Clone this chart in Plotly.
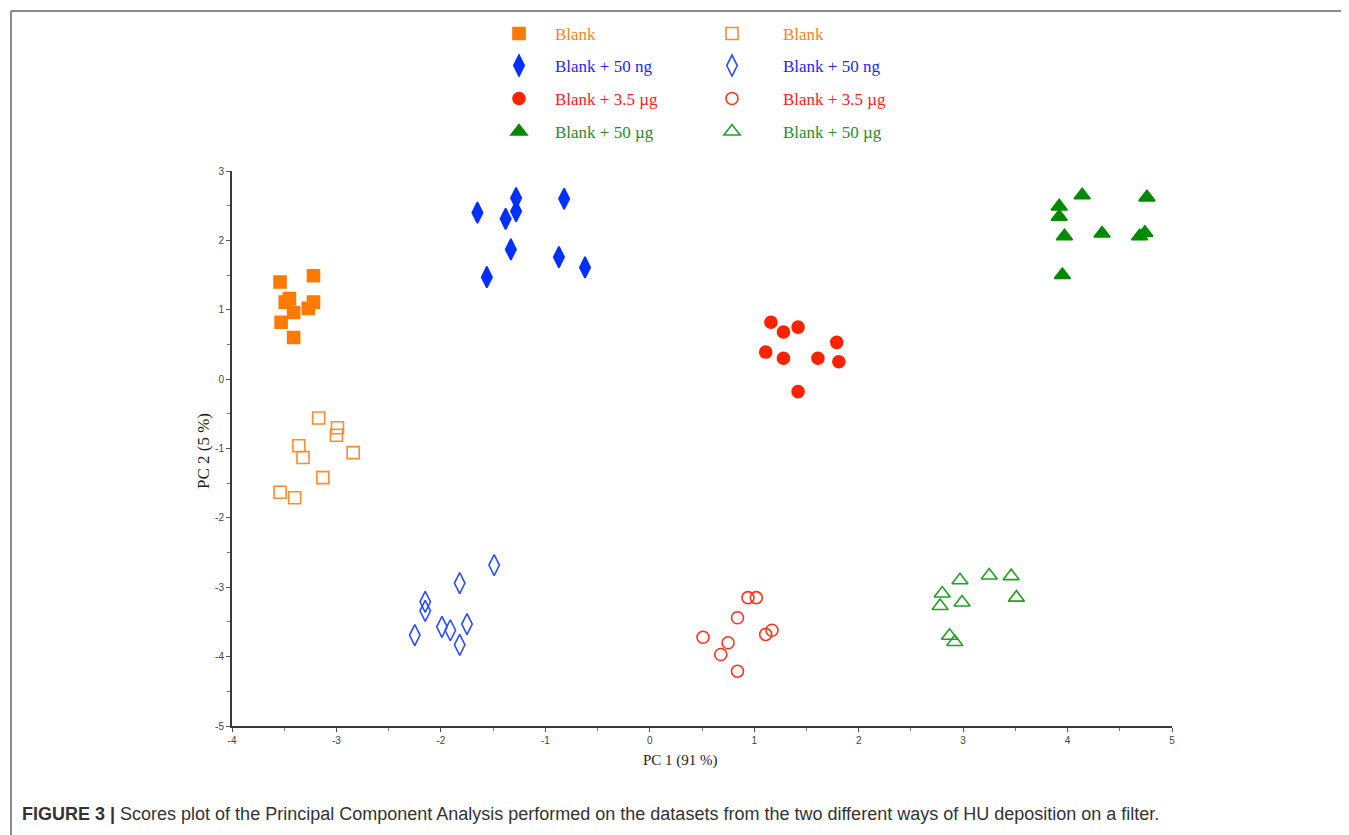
import plotly.graph_objects as go

# ---- data (PC1, PC2 scores) ----
blank_filled_x = [-3.54, -3.22, -3.49, -3.45, -3.41, -3.22, -3.27, -3.53, -3.41]
blank_filled_y = [1.40, 1.49, 1.11, 1.16, 0.96, 1.11, 1.02, 0.82, 0.60]
ng50_filled_x = [-1.65, -1.28, -1.28, -1.38, -0.82, -1.33, -0.87, -0.62, -1.56]
ng50_filled_y = [2.40, 2.61, 2.42, 2.31, 2.60, 1.87, 1.76, 1.61, 1.47]
ug35_filled_x = [1.16, 1.28, 1.42, 1.79, 1.11, 1.28, 1.61, 1.81, 1.42]
ug35_filled_y = [0.82, 0.68, 0.75, 0.53, 0.39, 0.30, 0.30, 0.25, -0.18]
ug50_filled_x = [4.14, 4.76, 3.92, 3.92, 3.97, 4.33, 4.69, 4.74, 3.95]
ug50_filled_y = [2.65, 2.62, 2.49, 2.34, 2.06, 2.10, 2.06, 2.11, 1.50]

blank_open_x = [-3.17, -2.99, -3.00, -3.36, -3.32, -2.84, -3.13, -3.54, -3.40]
blank_open_y = [-0.56, -0.70, -0.81, -0.96, -1.13, -1.06, -1.42, -1.63, -1.71]
ng50_open_x = [-1.49, -1.82, -2.15, -2.15, -2.25, -1.99, -1.91, -1.75, -1.82]
ng50_open_y = [-2.68, -2.94, -3.21, -3.34, -3.69, -3.57, -3.62, -3.53, -3.83]
ug35_open_x = [0.94, 1.02, 0.84, 1.17, 1.11, 0.51, 0.75, 0.68, 0.84]
ug35_open_y = [-3.15, -3.15, -3.44, -3.62, -3.68, -3.72, -3.80, -3.97, -4.21]
ug50_open_x = [2.97, 3.25, 3.46, 2.80, 3.51, 2.99, 2.78, 2.87, 2.92]
ug50_open_y = [-2.90, -2.83, -2.84, -3.09, -3.15, -3.22, -3.27, -3.70, -3.79]

labels = ["Blank", "Blank + 50 ng", "Blank + 3.5 µg", "Blank + 50 µg"]
x_ticks = [-4, -3, -2, -1, 0, 1, 2, 3, 4, 5]
y_ticks = [-5, -4, -3, -2, -1, 0, 1, 2, 3]

# ---- pixel helpers (reference screen pixels; page body has an 8px margin) ----
OFF = 8
L, R, T, B = 232, 1172, 171, 726
W, H = 1349 - OFF, 835 - OFF
def px(x):
    return (x - L) / (R - L)
def py(y):
    return (B - y) / (B - T)

filled_colors = ["#ff7a00", "#0030ff", "#ff2200", "#008a00"]
open_colors = ["#ff8a30", "#2a4dff", "#ff3320", "#22a022"]
text_colors = ["#ff7f24", "#1f1fff", "#ff2020", "#2a8a2a"]
filled_sym = ["square", "diamond-tall", "circle", "triangle-up"]
open_sym = ["square-open", "diamond-tall-open", "circle-open", "triangle-up-open"]
sizes = [12, 15, 12, 14]

filled = [(blank_filled_x, blank_filled_y), (ng50_filled_x, ng50_filled_y),
          (ug35_filled_x, ug35_filled_y), (ug50_filled_x, ug50_filled_y)]
opened = [(blank_open_x, blank_open_y), (ng50_open_x, ng50_open_y),
          (ug35_open_x, ug35_open_y), (ug50_open_x, ug50_open_y)]

row_y = [34, 66, 99, 132]

fig = go.Figure()
layout_legends = {}
n = 0
for col, (data, syms, cols) in enumerate([(filled, filled_sym, filled_colors),
                                          (opened, open_sym, open_colors)]):
    for i in range(4):
        n += 1
        key = "legend" if n == 1 else f"legend{n}"
        fig.add_trace(go.Scatter(
            x=data[i][0], y=data[i][1], mode="markers", name=labels[i],
            legend=key,
            marker=dict(symbol=syms[i], size=sizes[i], color=cols[i],
                        line=dict(width=1.6, color=cols[i])),
        ))
        if col == 0:
            lx, iw = 483, 62
        else:
            lx, iw = 681, 92
        layout_legends[key] = dict(
            x=px(lx), y=py(row_y[i]), xanchor="left", yanchor="middle",
            bgcolor="rgba(0,0,0,0)", itemwidth=iw,
            font=dict(family="Liberation Serif, Times New Roman, serif",
                      size=17, color=text_colors[i]),
        )

axis_common = dict(
    showline=True, linecolor="#3a3a3a", linewidth=2, mirror=False,
    showgrid=False, zeroline=False, ticks="outside", ticklen=4,
    tickcolor="#555", tickwidth=1,
    tickfont=dict(family="Liberation Sans Narrow, Arial Narrow, Liberation Sans, sans-serif",
                  size=10, color="#444"),
    minor=dict(ticks="outside", ticklen=3, tickcolor="#777", dtick=0.5),
)

fig.update_layout(
    width=W, height=H,
    margin=dict(l=L - OFF, r=W - (R - OFF), t=T - OFF, b=H - (B - OFF), autoexpand=False),
    paper_bgcolor="white", plot_bgcolor="white",
    showlegend=True,
    xaxis=dict(range=[-4, 5], tickvals=x_ticks, ticktext=[str(v) for v in x_ticks], **axis_common),
    yaxis=dict(range=[-5, 3], tickvals=y_ticks, ticktext=[str(v) for v in y_ticks], **axis_common),
    **layout_legends,
    annotations=[
        dict(text="PC 1 (91 %)", x=px(680), y=py(760), xref="paper", yref="paper",
             showarrow=False, xanchor="center", yanchor="middle",
             font=dict(family="Liberation Serif, Times New Roman, serif", size=15, color="#222")),
        dict(text="PC 2 (5 %)", x=px(203), y=py(451), xref="paper", yref="paper",
             showarrow=False, xanchor="center", yanchor="middle", textangle=-90,
             font=dict(family="Liberation Serif, Times New Roman, serif", size=17, color="#222")),
        dict(text="<b>FIGURE 3 |</b> Scores plot of the Principal Component Analysis performed on the datasets from the two different ways of HU deposition on a filter.",
             x=px(20), y=py(814), xref="paper", yref="paper", showarrow=False,
             xanchor="left", yanchor="middle",
             font=dict(family="Liberation Sans Narrow, Arial Narrow, Liberation Sans, sans-serif",
                       size=18, color="#333")),
    ],
    shapes=[
        dict(type="line", xref="paper", yref="paper", x0=px(11), x1=px(11),
             y0=py(11), y1=py(840), line=dict(color="#8a8a8a", width=2)),
        dict(type="line", xref="paper", yref="paper", x0=px(11), x1=px(1349),
             y0=py(11), y1=py(11), line=dict(color="#8a8a8a", width=2)),
    ],
)

fig.write_html("out.html")
